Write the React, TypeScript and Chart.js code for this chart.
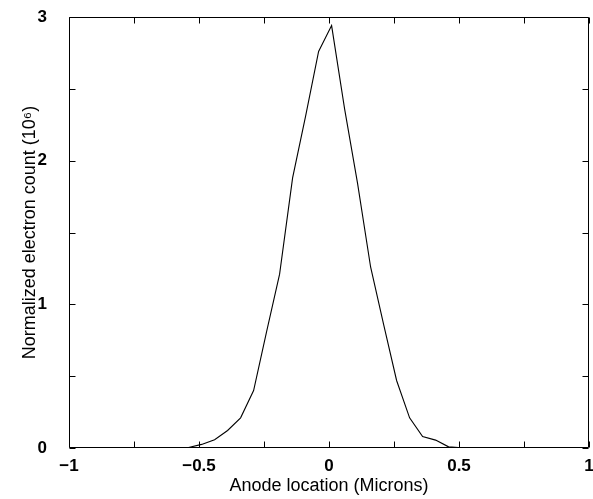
import { useEffect, useRef } from "react";
import { Chart, registerables } from "chart.js";

Chart.register(...registerables);

// Data
const anodeLocation = [
  -0.59, -0.54, -0.49, -0.44, -0.39, -0.34, -0.29, -0.24, -0.19, -0.14, -0.09, -0.04,
  0.01, 0.06, 0.11, 0.16, 0.21, 0.26, 0.31, 0.36, 0.41, 0.46, 0.51, 0.56,
];
const electronCount = [
  0.0, 0.004, 0.025, 0.058, 0.122, 0.21, 0.4, 0.81, 1.21, 1.88, 2.31, 2.76,
  2.94, 2.36, 1.84, 1.26, 0.86, 0.47, 0.21, 0.08, 0.055, 0.008, 0.002, 0.001,
];

const xMajorTicks = [-1, -0.5, 0, 0.5, 1];
const xMinorTicks = [-0.75, -0.25, 0.25, 0.75];
const yMajorTicks = [0, 1, 2, 3];
const yMinorTicks = [0.5, 1.5, 2.5];

const xTitle = "Anode location (Microns)";
const yTitle = "Normalized electron count (10\u2076)";

const FONT = "'Liberation Sans', Arial, Helvetica, sans-serif";
const TICK_LEN = 6;

const framePlugin = {
  id: "frameTicks",
  afterDatasetsDraw(chart: any) {
    const { ctx, chartArea: a, scales } = chart;
    const xs = scales.x;
    const ys = scales.y;
    ctx.save();
    ctx.strokeStyle = "#000";
    ctx.lineWidth = 1;
    const L = Math.round(a.left) + 0.5;
    const R = Math.round(a.right) - 0.5;
    const T = Math.round(a.top) + 0.5;
    const B = Math.round(a.bottom) - 0.5;
    ctx.beginPath();
    ctx.rect(L, T, R - L, B - T);
    ctx.stroke();
    ctx.beginPath();
    [...xMajorTicks, ...xMinorTicks].forEach((v) => {
      const px = Math.round(xs.getPixelForValue(v)) + 0.5;
      ctx.moveTo(px, B);
      ctx.lineTo(px, B - TICK_LEN);
      ctx.moveTo(px, T);
      ctx.lineTo(px, T + TICK_LEN);
    });
    [...yMajorTicks, ...yMinorTicks].forEach((v) => {
      const py = Math.round(ys.getPixelForValue(v)) + 0.5;
      ctx.moveTo(L, py);
      ctx.lineTo(L + TICK_LEN, py);
      ctx.moveTo(R, py);
      ctx.lineTo(R - TICK_LEN, py);
    });
    ctx.stroke();
    ctx.restore();
  },
};

const fmt = (v: number) => {
  const s = String(v);
  return v < 0 ? "\u2212" + s.slice(1) : s;
};

const zeroPadding = (scale: any) => {
  scale.paddingLeft = 0;
  scale.paddingRight = 0;
  scale.paddingTop = 0;
  scale.paddingBottom = 0;
};

export default function App() {
  const canvasRef = useRef<HTMLCanvasElement | null>(null);

  useEffect(() => {
    document.body.style.margin = "0";
    const canvas = canvasRef.current;
    if (!canvas) return;
    const points = anodeLocation.map((x, i) => ({ x, y: electronCount[i] }));
    const chart = new Chart(canvas, {
      type: "line",
      data: {
        datasets: [
          {
            data: points,
            borderColor: "#000",
            borderWidth: 1.1,
            pointRadius: 0,
            tension: 0,
            fill: false,
          },
        ],
      },
      options: {
        animation: false,
        responsive: false,
        devicePixelRatio: 1,
        layout: { padding: { top: 17, right: 4, left: 0, bottom: 0 } },
        plugins: {
          legend: { display: false },
          tooltip: { enabled: false },
        },
        scales: {
          x: {
            type: "linear",
            min: -1,
            max: 1,
            afterBuildTicks: (scale: any) => {
              scale.ticks = xMajorTicks.map((v) => ({ value: v }));
            },
            afterFit: (scale: any) => {
              scale.height = 51;
              zeroPadding(scale);
            },
            grid: { display: false, drawTicks: false },
            border: { display: false },
            ticks: {
              color: "#000",
              padding: 8,
              maxRotation: 0,
              autoSkip: false,
              font: { family: FONT, size: 17, weight: "bold" },
              callback: (v: any) => fmt(Number(v)),
            },
            title: {
              display: true,
              text: xTitle,
              color: "#000",
              padding: { top: 0, bottom: 2 },
              font: { family: FONT, size: 18 },
            },
          },
          y: {
            type: "linear",
            min: 0,
            max: 3,
            afterBuildTicks: (scale: any) => {
              scale.ticks = yMajorTicks.map((v) => ({ value: v }));
            },
            afterFit: (scale: any) => {
              scale.width = 69;
              zeroPadding(scale);
            },
            grid: { display: false, drawTicks: false },
            border: { display: false },
            ticks: {
              color: "#000",
              padding: 22,
              autoSkip: false,
              font: { family: FONT, size: 17, weight: "bold" },
              callback: (v: any) => fmt(Number(v)),
            },
            title: {
              display: true,
              text: yTitle,
              color: "#000",
              padding: { top: 19, bottom: 0 },
              font: { family: FONT, size: 18 },
            },
          },
        },
      },
      plugins: [framePlugin],
    });
    return () => chart.destroy();
  }, []);

  return (
    <div style={{ position: "fixed", left: 0, top: 0, width: 593, height: 499, background: "#fff" }}>
      <canvas ref={canvasRef} width={593} height={499} />
    </div>
  );
}
